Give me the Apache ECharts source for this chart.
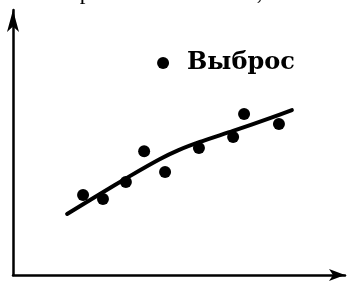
<!DOCTYPE html>
<html><head><meta charset="utf-8">
<script src="https://cdn.jsdelivr.net/npm/echarts@6/dist/echarts.min.js"></script>
<style>html,body{margin:0;padding:0;background:#fff}#c{width:349px;height:284px}</style>
</head><body><div id="c"></div>
<script>
const pointsX = [2.11, 2.71, 3.40, 3.95, 4.58, 5.60, 6.63, 6.96, 8.01];
const pointsY = [3.04, 2.89, 3.54, 4.71, 3.92, 4.83, 5.25, 6.12, 5.74];
const outlierX = [4.52];
const outlierY = [8.06];
const outlierLabel = 'Выброс';
const curveX = [1.63, 2.62, 3.52, 4.43, 4.97, 5.63, 6.63, 7.74, 8.40];
const curveY = [2.32, 3.08, 3.76, 4.41, 4.74, 5.06, 5.48, 5.97, 6.27];
const topText = 'ственен резкими скачками, с';

const chart = echarts.init(document.getElementById('c'));
const axisCommon = {
  type: 'value', min: 0, splitLine: {show: false}, axisTick: {show: false}, axisLabel: {show: false},
  axisLine: {show: true, onZero: false, lineStyle: {color: '#000', width: 2.5}, symbol: ['none', 'arrow']}
};
chart.setOption({
  animation: false,
  grid: {left: 13, right: 4, top: 10, bottom: 9},
  xAxis: Object.assign({}, axisCommon, {max: 10, axisLine: Object.assign({}, axisCommon.axisLine, {symbolSize: [9, 16]})}),
  yAxis: Object.assign({}, axisCommon, {max: 10.08, axisLine: Object.assign({}, axisCommon.axisLine, {symbolSize: [9, 22]})}),
  graphic: [{type: 'text', left: -2, top: -19, style: {text: topText, font: '23px "Liberation Serif"', fill: '#000'}}],
  series: [
    {type: 'line', smooth: 0.2, showSymbol: false, data: curveX.map((x, i) => [x, curveY[i]]),
     lineStyle: {color: '#000', width: 4, cap: 'round', join: 'round'}, z: 2},
    {type: 'scatter', symbolSize: 12, data: pointsX.map((x, i) => [x, pointsY[i]]),
     itemStyle: {color: '#000', opacity: 1}, z: 3},
    {type: 'scatter', symbolSize: 12, data: outlierX.map((x, i) => [x, outlierY[i]]),
     itemStyle: {color: '#000', opacity: 1}, z: 3,
     label: {show: true, position: 'right', distance: 18, formatter: outlierLabel,
       fontFamily: 'DejaVu Serif', fontWeight: 'bold', fontSize: 24, color: '#000'}}
  ]
});
</script></body></html>
